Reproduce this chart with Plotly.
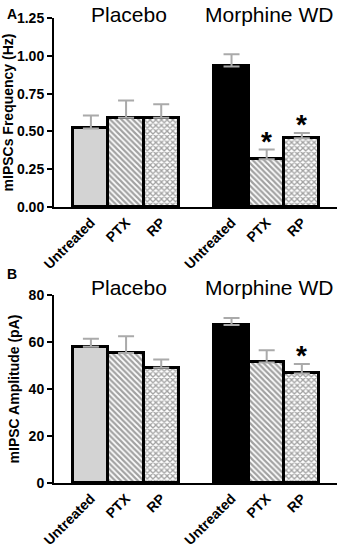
import plotly.graph_objects as go
from plotly.subplots import make_subplots

categories = ["Untreated", "PTX", "RP", "Untreated", "PTX", "RP"]
groups = ["Placebo", "Placebo", "Placebo", "Morphine WD", "Morphine WD", "Morphine WD"]
freq_mean = [0.52, 0.59, 0.59, 0.93, 0.315, 0.455]
freq_err = [0.085, 0.115, 0.09, 0.08, 0.065, 0.035]
freq_sig = [False, False, False, False, True, True]
amp_mean = [58.0, 55.3, 49.0, 67.2, 51.3, 46.6]
amp_err = [3.4, 7.2, 3.6, 3.0, 5.2, 4.0]
amp_sig = [False, False, False, False, False, True]
freq_ticks = [0, 0.25, 0.5, 0.75, 1.0, 1.25]
freq_ticklabels = ["0.00", "0.25", "0.50", "0.75", "1.00", "1.25"]
amp_ticks = [0, 20, 40, 60, 80]

# positions: groups separated by one empty slot
xpos = [0, 1, 2, 4, 5, 6]
fills = ["#d3d3d3", "white", "white", "black", "white", "white"]
shapes = ["", "\\", "x", "", "\\", "x"]

FONT = "Liberation Sans, Arial, sans-serif"

fig = make_subplots(rows=2, cols=1, vertical_spacing=0.0)


def add_panel(row, means, errs):
    fig.add_trace(go.Bar(
        x=xpos, y=means, width=1.0,
        marker=dict(color=fills, line=dict(color="black", width=3),
                    pattern=dict(shape=shapes, fgcolor="black", bgcolor="white",
                                 size=4, solidity=0.55)),
        error_y=dict(type="data", array=errs, arrayminus=[0] * len(errs),
                     symmetric=False, color="#aaaaaa", thickness=2, width=8),
        showlegend=False,
    ), row=row, col=1)


add_panel(1, freq_mean, freq_err)
add_panel(2, amp_mean, amp_err)

W, H = 340, 548
L, R = 54, 3
top, bot = 18, 65
plot_h = H - top - bot
plot_w = W - L - R


def fy(px):
    return (H - bot - px) / plot_h


def fx(px):
    return (px - L) / plot_w


fig.update_layout(
    width=W, height=H,
    margin=dict(l=L, r=R, t=top, b=bot, autoexpand=False),
    paper_bgcolor="white", plot_bgcolor="white",
    font=dict(family=FONT, color="black"),
    bargap=0,
)

axis_common = dict(showline=True, linecolor="black", linewidth=2, showgrid=False,
                   zeroline=False, mirror=False)
fig.update_xaxes(range=[-1.05, 7.0], tickmode="array", tickvals=xpos,
                 ticktext=["<b>%s</b>" % c for c in categories],
                 tickangle=-45, ticks="", tickfont=dict(size=14, family=FONT, color="black"),
                 **axis_common)
fig.update_yaxes(**axis_common, ticks="outside", ticklen=5, tickwidth=2, tickcolor="black",
                 tickmode="array", tickfont=dict(size=14, family=FONT, color="black"))
fig.update_yaxes(domain=[fy(207), 1.0], range=[0, 1.25], tickvals=freq_ticks,
                 ticktext=["<b>%s</b>" % t for t in freq_ticklabels],
                 title=dict(text="<b>mIPSCs Frequency (Hz)</b>", font=dict(size=14), standoff=6),
                 row=1, col=1)
fig.update_yaxes(domain=[0, fy(295)], range=[0, 80], tickvals=amp_ticks,
                 ticktext=["<b>%d</b>" % t for t in amp_ticks],
                 title=dict(text="<b>mIPSC Amplitude (pA)</b>", font=dict(size=14), standoff=6),
                 row=2, col=1)

ann = []
# group titles
for ypix in (14, 287):
    for g, cx in zip(["Placebo", "Morphine WD"], [128.5, 269]):
        ann.append(dict(text=g, x=fx(cx), y=fy(ypix), xref="paper", yref="paper",
                        xanchor="center", yanchor="middle", showarrow=False,
                        font=dict(size=21, family=FONT, color="black")))
# panel letters
for letter, ypix in (("A", 14), ("B", 274)):
    ann.append(dict(text="<b>%s</b>" % letter, x=fx(12), y=fy(ypix), xref="paper", yref="paper",
                    showarrow=False, xanchor="center", yanchor="middle",
                    font=dict(size=14, family=FONT, color="black")))

# significance stars
for (means, errs, sig, yref, xref) in ((freq_mean, freq_err, freq_sig, "y", "x"),
                                        (amp_mean, amp_err, amp_sig, "y2", "x2")):
    for xp, m, e, s in zip(xpos, means, errs, sig):
        if s:
            ann.append(dict(text="<b>*</b>", x=xp, y=m + e, xref=xref, yref=yref,
                            showarrow=False, xanchor="center", yanchor="bottom", yshift=-9,
                            font=dict(size=28, family=FONT, color="black")))

fig.update_layout(annotations=ann)
fig.write_html("out.html", config={"displayModeBar": False},
               post_script="document.body.style.margin='0';")
